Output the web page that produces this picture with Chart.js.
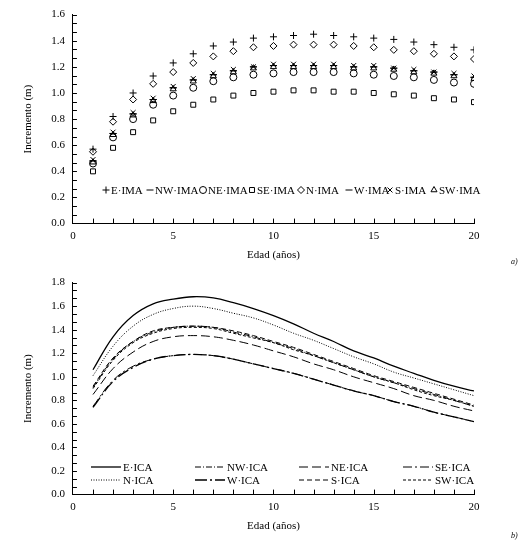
<!DOCTYPE html>
<html><head><meta charset="utf-8">
<script src="https://cdn.jsdelivr.net/npm/chart.js@4/dist/chart.umd.min.js"></script>
<style>
body{margin:0;background:#fff;width:529px;height:543px;position:relative;overflow:hidden;font-family:"Liberation Serif",serif}
#c1w{position:absolute;left:0;top:0;width:529px;height:266px}
#c2w{position:absolute;left:0;top:268px;width:529px;height:275px}
.lab{position:absolute;font-style:italic;font-size:8px;font-family:"Liberation Serif"}
</style></head><body>
<div id="c1w"><canvas id="c1"></canvas></div>
<div id="c2w"><canvas id="c2"></canvas></div>
<div class="lab" style="left:511px;top:257px">a)</div>
<div class="lab" style="left:511px;top:531px">b)</div>
<script>
const ages=[1,2,3,4,5,6,7,8,9,10,11,12,13,14,15,16,17,18,19,20];
// IMA (top)
const E_IMA=[0.57,0.82,1.00,1.13,1.23,1.30,1.36,1.39,1.42,1.43,1.44,1.45,1.44,1.43,1.42,1.41,1.39,1.37,1.35,1.33];
const NW_IMA=[0.48,0.69,0.84,0.95,1.04,1.10,1.14,1.17,1.20,1.21,1.21,1.21,1.21,1.20,1.20,1.19,1.17,1.16,1.14,1.12];
const NE_IMA=[0.46,0.66,0.80,0.91,0.98,1.04,1.09,1.12,1.14,1.15,1.16,1.16,1.16,1.15,1.14,1.13,1.12,1.10,1.08,1.07];
const SE_IMA=[0.40,0.58,0.70,0.79,0.86,0.91,0.95,0.98,1.00,1.01,1.02,1.02,1.01,1.01,1.00,0.99,0.98,0.96,0.95,0.93];
const N_IMA=[0.55,0.78,0.95,1.07,1.16,1.23,1.28,1.32,1.35,1.36,1.37,1.37,1.37,1.36,1.35,1.33,1.32,1.30,1.28,1.26];
const W_IMA=[0.48,0.69,0.84,0.95,1.04,1.10,1.14,1.17,1.20,1.21,1.21,1.21,1.21,1.20,1.20,1.19,1.17,1.16,1.14,1.12];
const S_IMA=[0.49,0.70,0.85,0.96,1.05,1.11,1.15,1.18,1.20,1.22,1.22,1.22,1.22,1.21,1.21,1.19,1.18,1.16,1.15,1.13];
const SW_IMA=[0.47,0.68,0.83,0.94,1.03,1.09,1.13,1.16,1.19,1.20,1.20,1.20,1.20,1.19,1.19,1.18,1.16,1.15,1.13,1.11];
// ICA (bottom)
const E_ICA=[1.06,1.34,1.52,1.62,1.66,1.68,1.67,1.63,1.58,1.52,1.45,1.37,1.30,1.22,1.16,1.09,1.03,0.97,0.92,0.88];
const NW_ICA=[0.91,1.15,1.30,1.38,1.42,1.43,1.42,1.38,1.34,1.29,1.24,1.18,1.12,1.06,1.00,0.95,0.90,0.85,0.80,0.75];
const NE_ICA=[0.85,1.07,1.21,1.30,1.34,1.35,1.34,1.31,1.27,1.22,1.17,1.11,1.06,1.00,0.95,0.90,0.84,0.80,0.75,0.71];
const SE_ICA=[0.75,0.97,1.09,1.15,1.18,1.19,1.18,1.15,1.11,1.07,1.03,0.98,0.93,0.88,0.84,0.79,0.75,0.70,0.66,0.62];
const N_ICA=[1.01,1.26,1.43,1.53,1.58,1.60,1.58,1.54,1.50,1.44,1.37,1.31,1.24,1.17,1.11,1.04,0.99,0.94,0.89,0.84];
const W_ICA=[0.74,0.96,1.08,1.15,1.18,1.19,1.18,1.15,1.11,1.07,1.03,0.98,0.93,0.88,0.84,0.79,0.75,0.70,0.66,0.62];
const S_ICA=[0.92,1.16,1.30,1.39,1.42,1.43,1.42,1.39,1.35,1.30,1.25,1.19,1.13,1.07,1.01,0.96,0.91,0.86,0.81,0.76];
const SW_ICA=[0.90,1.14,1.29,1.37,1.41,1.42,1.41,1.37,1.33,1.29,1.23,1.18,1.12,1.06,1.00,0.95,0.89,0.84,0.80,0.75];

const imaLabels=['E·IMA','NW·IMA','NE·IMA','SE·IMA','N·IMA','W·IMA','S·IMA','SW·IMA'];
const icaLabels=['E·ICA','NW·ICA','NE·ICA','SE·ICA','N·ICA','W·ICA','S·ICA','SW·ICA'];
const FONT='Liberation Serif';
const pts=(arr)=>arr.map((v,i)=>({x:ages[i],y:v}));

function scales(max,step){
  return {
    x:{type:'linear',min:0,max:20,grid:{display:false,drawTicks:false},border:{color:'#000',width:1},
       ticks:{stepSize:5,color:'#000',padding:6,font:{family:FONT,size:11}},
       title:{display:true,text:'Edad (años)',color:'#000',padding:{top:0},font:{family:FONT,size:11}}},
    y:{min:0,max:max,grid:{display:false,drawTicks:false},border:{color:'#000',width:1},
       ticks:{stepSize:step,color:'#000',padding:8,font:{family:FONT,size:11},callback:v=>v.toFixed(1)},
       title:{display:true,text:'Incremento (m)',color:'#000',padding:{bottom:8},font:{family:FONT,size:11}}}
  };
}
const minorTicks={id:'minor',afterDatasetsDraw(ch,a,o){
  const c=ch.ctx,xs=ch.scales.x,ys=ch.scales.y,ca=ch.chartArea;
  c.save();c.strokeStyle='#000';c.lineWidth=1;c.beginPath();
  for(let v=1;v<=20;v++){const px=Math.round(xs.getPixelForValue(v))+0.5;c.moveTo(px,ca.bottom);c.lineTo(px,ca.bottom-5);}
  const st=o.ystep;for(let v=st;v<=ys.max+1e-9;v+=st){const py=Math.round(ys.getPixelForValue(v))+0.5;c.moveTo(ca.left,py);c.lineTo(ca.left+4,py);}
  c.stroke();c.restore();}};

const styles1=['cross','line','circle','rect','rectRot','line','crossRot','triangle'];
const data1=[E_IMA,NW_IMA,NE_IMA,SE_IMA,N_IMA,W_IMA,S_IMA,SW_IMA];
const legendTop={id:'legTop',afterDraw(ch){
  const c=ch.ctx;c.save();
  const xs=[102,146,199,248,297,345,386,430],y=190;
  c.font='11px '+FONT;c.textBaseline='middle';
  ch.data.datasets.forEach((d,i)=>{
    c.fillStyle='#fff';c.strokeStyle='#000';c.lineWidth=1;
    Chart.helpers.drawPoint(c,{pointStyle:d.pointStyle,radius:3.5,borderWidth:1,rotation:0},xs[i]+4,y);
    c.fillStyle='#000';c.fillText(d.label,xs[i]+9,y+1);
  });c.restore();}};
new Chart(document.getElementById('c1'),{type:'scatter',
  data:{datasets:data1.map((a,i)=>({label:imaLabels[i],data:pts(a),pointStyle:styles1[i],pointRadius:3.5,
    borderColor:'#000',backgroundColor:'rgba(255,255,255,0)',borderWidth:1}))},
  options:{animation:false,responsive:true,maintainAspectRatio:false,devicePixelRatio:1,
    layout:{padding:{left:18,right:55,top:2,bottom:0}},
    plugins:{legend:{display:false},tooltip:{enabled:false},minor:{ystep:0.2/3}},
    scales:scales(1.6,0.2)},plugins:[minorTicks,legendTop]});

const dashes=[[],[6,2,1,2],[9,4],[9,3,2,3],[1,1.5],[12,3,2,3],[5,3],[3,2]];
const widths=[1.3,1,1,1,1,1.3,1,1];
const data2=[E_ICA,NW_ICA,NE_ICA,SE_ICA,N_ICA,W_ICA,S_ICA,SW_ICA];
const legendBot={id:'legBot',afterDraw(ch){
  const c=ch.ctx;c.save();c.font='11px '+FONT;c.fillStyle='#000';c.textBaseline='middle';
  const cols=[91,195,299,403],rows=[199,212];
  ch.data.datasets.forEach((d,i)=>{
    const col=i%4,row=Math.floor(i/4);const x=cols[col],y=rows[row];
    c.strokeStyle='#000';c.lineWidth=d.borderWidth;c.setLineDash(d.borderDash);
    c.beginPath();c.moveTo(x,y);c.lineTo(x+30,y);c.stroke();c.setLineDash([]);
    c.fillText(d.label,x+32,y+1);
  });c.restore();}};
new Chart(document.getElementById('c2'),{type:'line',
  data:{datasets:data2.map((a,i)=>({label:icaLabels[i],data:pts(a),borderColor:'#000',borderWidth:widths[i],
    borderDash:dashes[i],pointRadius:0,tension:0.4,fill:false}))},
  options:{animation:false,responsive:true,maintainAspectRatio:false,devicePixelRatio:1,
    layout:{padding:{left:18,right:55,top:8,bottom:6}},
    plugins:{legend:{display:false},tooltip:{enabled:false},minor:{ystep:0.2/3}},
    scales:scales(1.8,0.2)},plugins:[minorTicks,legendBot]});
</script></body></html>
